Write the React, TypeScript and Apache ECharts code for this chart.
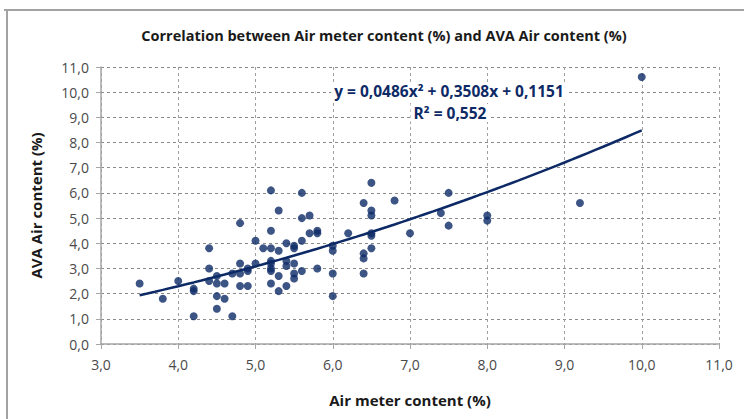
import React, { useEffect, useRef } from "react";
import * as echarts from "echarts";

const xValues = [
  3.5, 3.8, 4.0, 4.2, 4.2, 4.2, 4.4, 4.4, 4.4, 4.5, 4.5, 4.5, 4.5, 4.6, 4.6, 4.7, 4.7,
  4.8, 4.8, 4.8, 4.8, 4.9, 4.9, 4.9, 5.0, 5.0, 5.1, 5.2, 5.2, 5.2, 5.2, 5.2, 5.2, 5.2,
  5.2, 5.3, 5.3, 5.3, 5.3, 5.4, 5.4, 5.4, 5.4, 5.5, 5.5, 5.5, 5.5, 5.5, 5.6, 5.6, 5.6,
  5.6, 5.7, 5.7, 5.8, 5.8, 5.8, 6.0, 6.0, 6.0, 6.0, 6.2, 6.4, 6.4, 6.4, 6.4, 6.5, 6.5,
  6.5, 6.5, 6.5, 6.5, 6.8, 7.0, 7.4, 7.5, 7.5, 8.0, 8.0, 9.2, 10.0,
];
const yValues = [
  2.4, 1.8, 2.5, 2.2, 2.1, 1.1, 3.8, 3.0, 2.5, 2.7, 2.4, 1.9, 1.4, 2.4, 1.8, 2.8, 1.1,
  4.8, 3.2, 2.8, 2.3, 3.0, 2.9, 2.3, 4.1, 3.2, 3.8, 6.1, 4.5, 3.8, 3.3, 3.2, 3.0, 2.9,
  2.4, 5.3, 3.7, 2.7, 2.1, 4.0, 3.3, 3.1, 2.3, 3.9, 3.8, 3.2, 2.8, 2.6, 6.0, 5.0, 4.1,
  2.9, 5.1, 4.4, 4.5, 4.4, 3.0, 3.9, 3.7, 2.8, 1.9, 4.4, 5.6, 3.6, 3.4, 2.8, 6.4, 5.3,
  5.1, 4.4, 4.3, 3.8, 5.7, 4.4, 5.2, 6.0, 4.7, 5.1, 4.9, 5.6, 10.6,
];

// Polynomial (order 2) trendline coefficients: a*x^2 + b*x + c
const trendCoefficients = [0.0486, 0.3508, 0.1151];
const trendRange = [3.5, 10.0];

const titleText = "Correlation between Air meter content (%) and AVA Air content (%)";
const xAxisTitle = "Air meter content (%)";
const yAxisTitle = "AVA Air content (%)";
const equationText = "y = 0,0486x² + 0,3508x + 0,1151";
const r2Text = "R² = 0,552";

const NAVY = "#0d2a66";

export default function App() {
  const ref = useRef<HTMLDivElement>(null);

  useEffect(() => {
    document.body.style.margin = "0";
    if (!ref.current) return;
    const chart = echarts.init(ref.current, undefined, { renderer: "svg" });

    const points = xValues.map((x, i) => [x, yValues[i]]);
    const [a, b, c] = trendCoefficients;
    const trend: number[][] = [];
    for (let k = 0; k <= 65; k++) {
      const x = trendRange[0] + (k * (trendRange[1] - trendRange[0])) / 65;
      trend.push([x, a * x * x + b * x + c]);
    }

    const fmt = (v: number) => v.toFixed(1).replace(".", ",");
    const labelFont = "'Open Sans', 'Noto Sans', sans-serif";

    chart.setOption({
      animation: false,
      backgroundColor: "#ffffff",
      title: {
        text: titleText,
        left: 379,
        top: 23,
        textAlign: "center",
        textStyle: {
          fontFamily: labelFont,
          fontSize: 14.5,
          fontWeight: "bold",
          color: "#1a1a1a",
        },
      },
      grid: { left: 101, right: 25, top: 67, bottom: 75, containLabel: false },
      xAxis: {
        type: "value",
        min: 3,
        max: 11,
        interval: 1,
        name: xAxisTitle,
        nameLocation: "middle",
        nameGap: 48,
        nameTextStyle: {
          fontFamily: labelFont,
          fontSize: 15,
          fontWeight: "bold",
          color: "#1a1a1a",
        },
        axisLine: { show: true, onZero: false, lineStyle: { color: "#a6a6a6", width: 1.5 } },
        axisTick: { show: true, inside: false, length: 5, lineStyle: { color: "#a6a6a6" } },
        axisLabel: {
          formatter: fmt,
          margin: 13,
          fontFamily: labelFont,
          fontSize: 14,
          color: "#4a4a4a",
        },
        splitLine: {
          show: true,
          lineStyle: { color: "#a0a0a0", type: [3, 3], width: 1 },
        },
      },
      yAxis: {
        type: "value",
        min: 0,
        max: 11,
        interval: 1,
        name: yAxisTitle,
        nameLocation: "middle",
        nameGap: 58,
        nameRotate: 90,
        nameTextStyle: {
          fontFamily: labelFont,
          fontSize: 15,
          fontWeight: "bold",
          color: "#1a1a1a",
        },
        axisLine: { show: true, onZero: false, lineStyle: { color: "#a6a6a6", width: 1.5 } },
        axisTick: { show: true, inside: false, length: 5, lineStyle: { color: "#a6a6a6" } },
        axisLabel: {
          formatter: fmt,
          margin: 12,
          fontFamily: labelFont,
          fontSize: 14,
          color: "#4a4a4a",
        },
        splitLine: {
          show: true,
          lineStyle: { color: "#8a8a8a", type: [3, 3], width: 1 },
        },
      },
      series: [
        {
          type: "line",
          data: trend,
          showSymbol: false,
          symbol: "none",
          smooth: false,
          lineStyle: { color: NAVY, width: 2.5 },
          z: 3,
        },
        {
          type: "scatter",
          data: points,
          symbol: "circle",
          symbolSize: 8,
          itemStyle: { color: NAVY },
          z: 4,
        },
      ],
      graphic: [
        {
          type: "line",
          shape: { x1: 4, y1: 10, x2: 744, y2: 10 },
          style: { stroke: "#a3a3a3", lineWidth: 2 },
        },
        {
          type: "line",
          shape: { x1: 7, y1: 10, x2: 7, y2: 419 },
          style: { stroke: "#a3a3a3", lineWidth: 2 },
        },
        {
          type: "text",
          x: 449,
          y: 91,
          z: 10,
          style: {
            text: equationText,
            textAlign: "center",
            textVerticalAlign: "middle",
            font: `bold 15.5px ${labelFont}`,
            fill: NAVY,
            backgroundColor: "#ffffff",
            padding: [1, 3],
          },
        },
        {
          type: "text",
          x: 450,
          y: 113,
          z: 10,
          style: {
            text: r2Text,
            textAlign: "center",
            textVerticalAlign: "middle",
            font: `bold 15.5px ${labelFont}`,
            fill: NAVY,
            backgroundColor: "#ffffff",
            padding: [1, 3],
          },
        },
      ],
    });

    return () => chart.dispose();
  }, []);

  return (
    <div
      ref={ref}
      style={{ position: "absolute", left: 0, top: 0, width: 744, height: 419 }}
    />
  );
}
